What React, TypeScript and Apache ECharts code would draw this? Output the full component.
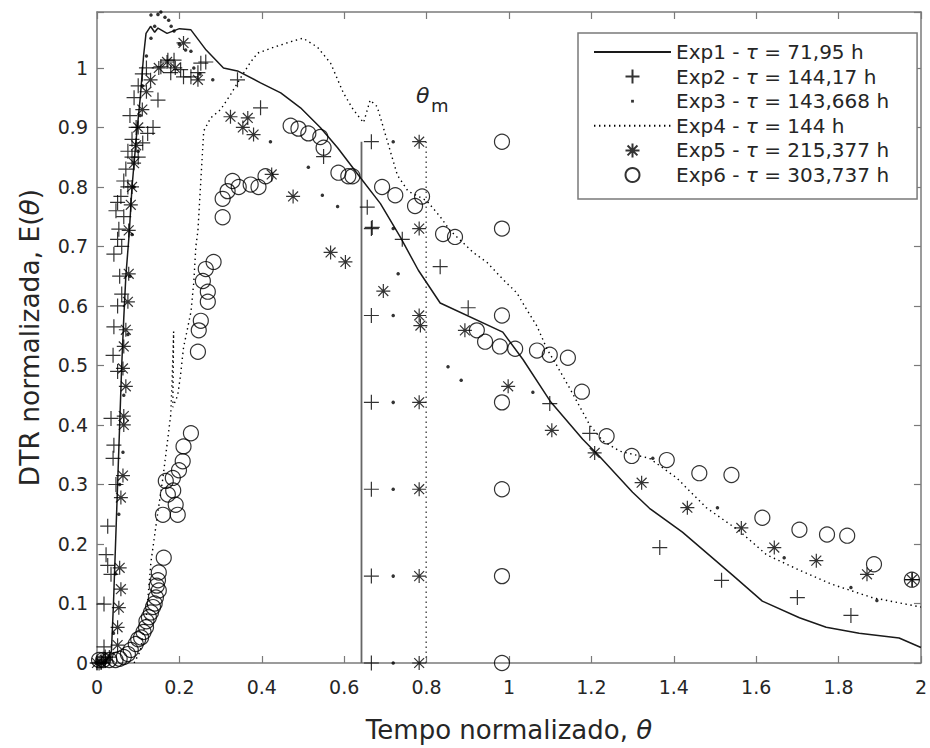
import React, { useEffect, useRef } from 'react';
import * as echarts from 'echarts';

// ---------- data ----------
const yMax = 1.094;

const legendNames = [
  'Exp1 - τ = 71,95 h',
  'Exp2 - τ = 144,17 h',
  'Exp3 - τ = 143,668 h',
  'Exp4 - τ = 144 h',
  'Exp5 - τ = 215,377 h',
  'Exp6 - τ = 303,737 h',
];

const exp1 = [
  [0, 0], [0.02, 0], [0.035, 0.02], [0.04, 0.1], [0.045, 0.2], [0.05, 0.3], [0.055, 0.4], [0.06, 0.5],
  [0.065, 0.58], [0.07, 0.65], [0.078, 0.72], [0.085, 0.8], [0.095, 0.88], [0.105, 0.95], [0.113, 1.02],
  [0.119, 1.058], [0.13, 1.07], [0.14, 1.06], [0.148, 1.067], [0.17, 1.058], [0.2, 1.066], [0.228, 1.064],
  [0.265, 1.03], [0.307, 1.0], [0.341, 0.995], [0.397, 0.975], [0.446, 0.958], [0.494, 0.933], [0.542, 0.9],
  [0.584, 0.866], [0.639, 0.816], [0.688, 0.772], [0.736, 0.716], [0.78, 0.66], [0.833, 0.605], [0.985, 0.556],
  [1.034, 0.51], [1.1, 0.44], [1.179, 0.376], [1.22, 0.347], [1.3, 0.287], [1.341, 0.26], [1.421, 0.22],
  [1.542, 0.148], [1.615, 0.104], [1.705, 0.076], [1.77, 0.06], [1.85, 0.05], [1.947, 0.042], [2.0, 0.026],
];

const exp2 = [
  [0, 0], [0.005, 0], [0.01, 0.002], [0.015, 0.005], [0.02, 0.01], [0.017, 0.027], [0.017, 0.099], [0.026, 0.164],
  [0.022, 0.182], [0.034, 0.149], [0.026, 0.23], [0.046, 0.3], [0.039, 0.344], [0.041, 0.366], [0.034, 0.411],
  [0.05, 0.49], [0.039, 0.517], [0.041, 0.565], [0.05, 0.6], [0.06, 0.62], [0.055, 0.65], [0.041, 0.687],
  [0.05, 0.712], [0.053, 0.729], [0.046, 0.76], [0.05, 0.774], [0.058, 0.784], [0.065, 0.81], [0.06, 0.7],
  [0.065, 0.75], [0.075, 0.8], [0.07, 0.83], [0.085, 0.85], [0.075, 0.86], [0.085, 0.88], [0.095, 0.9],
  [0.08, 0.92], [0.09, 0.95], [0.1, 0.97], [0.11, 0.99], [0.12, 1.0], [0.1, 0.85], [0.111, 0.874], [0.123, 0.89],
  [0.136, 0.9], [0.148, 0.946], [0.155, 1.002], [0.172, 1.013], [0.187, 1.013], [0.179, 0.992], [0.203, 0.997],
  [0.21, 0.985], [0.228, 0.985], [0.245, 0.992], [0.252, 1.008], [0.264, 1.01], [0.341, 0.98], [0.397, 0.933],
  [0.55, 0.851], [0.656, 0.766], [0.668, 0.732], [0.741, 0.712], [0.833, 0.666], [0.901, 0.597], [1.099, 0.436],
  [1.196, 0.386], [1.366, 0.194], [1.516, 0.139], [1.7, 0.11], [1.83, 0.08], [1.979, 0.14],
];

const exp3 = [
  [0, 0], [0.02, 0], [0.03, 0.01], [0.04, 0.05], [0.045, 0.15], [0.053, 0.25], [0.055, 0.3], [0.063, 0.354],
  [0.065, 0.45], [0.075, 0.552], [0.08, 0.65], [0.085, 0.72], [0.09, 0.8], [0.1, 0.86], [0.105, 0.92],
  [0.11, 0.97], [0.12, 1.02], [0.131, 1.05], [0.131, 1.089], [0.14, 1.07], [0.148, 1.09], [0.155, 1.094],
  [0.165, 1.085], [0.174, 1.08], [0.18, 1.07], [0.187, 1.062], [0.2, 1.04], [0.215, 1.03], [0.228, 1.028],
  [0.235, 1.0], [0.25, 0.99], [0.281, 0.98], [0.421, 0.876], [0.513, 0.833], [0.547, 0.786], [0.584, 0.767],
  [0.731, 0.654], [0.852, 0.498], [0.884, 0.475], [1.058, 0.455], [1.349, 0.344], [1.506, 0.261],
  [1.668, 0.177], [1.83, 0.127], [1.893, 0.105],
];

const exp4 = [
  [0.09, 0], [0.105, 0.02], [0.12, 0.08], [0.131, 0.17], [0.138, 0.205], [0.147, 0.25], [0.159, 0.306],
  [0.167, 0.35], [0.179, 0.417], [0.182, 0.47], [0.186, 0.557], [0.184, 0.43], [0.196, 0.45], [0.203, 0.485],
  [0.21, 0.53], [0.22, 0.563], [0.228, 0.59], [0.235, 0.64], [0.24, 0.7], [0.245, 0.727], [0.252, 0.81],
  [0.259, 0.894], [0.276, 0.916], [0.3, 0.93], [0.324, 0.955], [0.35, 0.985], [0.373, 1.01], [0.39, 1.025],
  [0.43, 1.035], [0.47, 1.044], [0.5, 1.05], [0.535, 1.035], [0.567, 1.008], [0.598, 0.958], [0.622, 0.93],
  [0.647, 0.908], [0.663, 0.946], [0.68, 0.935], [0.695, 0.9], [0.712, 0.86], [0.729, 0.82], [0.755, 0.793],
  [0.8, 0.777], [0.833, 0.75], [0.857, 0.727], [0.913, 0.69], [0.947, 0.673], [0.985, 0.645], [1.019, 0.622],
  [1.043, 0.594], [1.068, 0.566], [1.092, 0.528], [1.116, 0.5], [1.148, 0.461], [1.196, 0.4], [1.228, 0.373],
  [1.269, 0.356], [1.341, 0.344], [1.407, 0.311], [1.479, 0.261], [1.559, 0.222], [1.625, 0.182],
  [1.705, 0.156], [1.785, 0.132], [1.881, 0.11], [2.0, 0.094],
];

const exp5 = [
  [0, 0], [0.01, 0], [0.02, 0.005], [0.03, 0.01], [0.05, 0.03], [0.05, 0.06], [0.053, 0.093], [0.058, 0.124],
  [0.055, 0.16], [0.058, 0.278], [0.063, 0.315], [0.065, 0.4], [0.065, 0.415], [0.07, 0.465], [0.063, 0.495],
  [0.065, 0.532], [0.07, 0.56], [0.075, 0.607], [0.077, 0.654], [0.077, 0.727], [0.082, 0.77], [0.085, 0.8],
  [0.09, 0.84], [0.095, 0.87], [0.1, 0.9], [0.11, 0.93], [0.12, 0.96], [0.13, 0.98], [0.15, 1.0], [0.17, 1.01],
  [0.19, 1.0], [0.21, 1.042], [0.245, 0.98], [0.324, 0.918], [0.366, 0.916], [0.354, 0.9], [0.38, 0.888],
  [0.424, 0.821], [0.476, 0.784], [0.567, 0.69], [0.603, 0.674], [0.695, 0.625], [0.785, 0.567],
  [0.893, 0.559], [0.998, 0.465], [1.104, 0.391], [1.208, 0.353], [1.322, 0.303], [1.433, 0.261],
  [1.564, 0.227], [1.644, 0.194], [1.746, 0.172], [1.869, 0.149], [1.978, 0.14],
];

const exp6 = [
  [0.005, 0.005], [0.015, 0.005], [0.03, 0.005], [0.045, 0.005], [0.055, 0.007], [0.065, 0.01], [0.075, 0.015],
  [0.082, 0.022], [0.094, 0.032], [0.1, 0.04], [0.107, 0.043], [0.113, 0.052], [0.119, 0.06], [0.12, 0.07],
  [0.126, 0.077], [0.131, 0.085], [0.136, 0.094], [0.14, 0.1], [0.143, 0.11], [0.15, 0.122], [0.145, 0.13],
  [0.148, 0.139], [0.15, 0.152], [0.162, 0.177], [0.16, 0.249], [0.196, 0.249], [0.191, 0.266], [0.172, 0.283],
  [0.185, 0.29], [0.167, 0.306], [0.184, 0.311], [0.199, 0.324], [0.208, 0.339], [0.21, 0.364], [0.228, 0.386],
  [0.245, 0.523], [0.247, 0.559], [0.252, 0.575], [0.269, 0.607], [0.269, 0.624], [0.257, 0.642], [0.264, 0.662],
  [0.283, 0.674], [0.305, 0.749], [0.305, 0.78], [0.317, 0.793], [0.329, 0.81], [0.344, 0.8], [0.373, 0.804],
  [0.392, 0.8], [0.409, 0.818], [0.47, 0.903], [0.489, 0.898], [0.513, 0.89], [0.542, 0.884], [0.55, 0.866],
  [0.586, 0.824], [0.61, 0.818], [0.62, 0.818], [0.692, 0.8], [0.724, 0.786], [0.772, 0.768], [0.789, 0.784],
  [0.84, 0.721], [0.869, 0.716], [0.922, 0.559], [0.942, 0.54], [0.978, 0.532], [1.015, 0.528], [1.068, 0.525],
  [1.099, 0.518], [1.143, 0.513], [1.177, 0.456], [1.237, 0.381], [1.298, 0.348], [1.383, 0.341],
  [1.462, 0.319], [1.54, 0.316], [1.615, 0.244], [1.705, 0.224], [1.772, 0.216], [1.821, 0.214],
  [1.886, 0.166], [1.978, 0.14],
];

// mean residence times (θm) of the six experiments and the marker levels of the θm columns
const thetaM = [0.642, 0.666, 0.719, 0.799, 0.782, 0.983];
const thetaMTop = 0.876;
const thetaMLevels = [0, 0.146, 0.292, 0.438, 0.584, 0.73, 0.876];

// ---------- styling ----------
const FONT = '"DejaVu Sans", Verdana, sans-serif';
const TXT = '#262626';
const AXC = '#7a7a7a';
const PLUS = 'path://M0,7H14M7,0V14';
const STAR = 'path://M0,7H14M7,0V14M2.05,2.05L11.95,11.95M11.95,2.05L2.05,11.95';
const DOT_ICON = 'path://M0,0M14,14M5.6,5.6h2.8v2.8h-2.8z';

const hollow = { color: 'rgba(0,0,0,0)', borderColor: '#000', borderWidth: 1.2 };
const noSymbol = { color: 'rgba(0,0,0,0)', borderColor: 'rgba(0,0,0,0)', borderWidth: 0, opacity: 0 };

const fmt = (v: number) => {
  const r = Math.round(v * 10) / 10;
  if (Math.abs(v - r) > 1e-6) return '';
  return String(r);
};

function buildOption() {
  const col = (i: number) => thetaMLevels.map((y) => [thetaM[i], y]);
  const axisCommon = {
    axisLine: { show: true, onZero: false, lineStyle: { color: AXC, width: 1.5 } },
    axisTick: { show: true, inside: true, length: 7, lineStyle: { color: AXC, width: 1.2 } },
    splitLine: { show: false },
  };
  return {
    animation: false,
    backgroundColor: '#fff',
    grid: { left: 97, top: 12, width: 826, height: 652, containLabel: false },
    xAxis: [
      {
        type: 'value', min: 0, max: 2, interval: 0.2, position: 'bottom',
        ...axisCommon,
        axisLabel: { color: TXT, fontFamily: FONT, fontSize: 19, margin: 14, formatter: fmt },
        name: 'Tempo normalizado, {i|θ}', nameLocation: 'middle', nameGap: 54,
        nameTextStyle: {
          color: TXT, fontFamily: FONT, fontSize: 26,
          rich: { i: { fontStyle: 'italic', fontFamily: FONT, fontSize: 26, color: TXT } },
        },
      },
      {
        type: 'value', min: 0, max: 2, interval: 0.2, position: 'top',
        ...axisCommon, axisLabel: { show: false },
      },
    ],
    yAxis: [
      {
        type: 'value', min: 0, max: yMax, interval: 0.1, position: 'left',
        ...axisCommon,
        axisLabel: { color: TXT, fontFamily: FONT, fontSize: 19, margin: 9, formatter: fmt },
        name: 'DTR normalizada, E({i|θ})', nameLocation: 'middle', nameGap: 54,
        nameTextStyle: {
          color: TXT, fontFamily: FONT, fontSize: 26.5,
          rich: { i: { fontStyle: 'italic', fontFamily: FONT, fontSize: 26.5, color: TXT } },
        },
      },
      {
        type: 'value', min: 0, max: yMax, interval: 0.1, position: 'right',
        ...axisCommon, axisLabel: { show: false },
      },
    ],
    legend: {
      orient: 'vertical', left: 578, top: 33,
      itemWidth: 77, itemHeight: 14, itemGap: 4.6,
      padding: [9, 28, 14, 15],
      borderColor: AXC, borderWidth: 1.5, backgroundColor: '#fff',
      data: [
        { name: legendNames[0], itemStyle: noSymbol },
        { name: legendNames[1] },
        { name: legendNames[2], icon: DOT_ICON },
        { name: legendNames[3], itemStyle: noSymbol },
        { name: legendNames[4] },
        { name: legendNames[5] },
      ],
      formatter: (name: string) => {
        const parts = name.split('τ');
        return `{a|${parts[0]}}{t|τ}{a|${parts[1]}}`;
      },
      textStyle: {
        color: TXT, fontFamily: FONT, fontSize: 20, lineHeight: 20,
        rich: {
          a: { color: TXT, fontFamily: FONT, fontSize: 20, lineHeight: 20 },
          t: { color: TXT, fontFamily: FONT, fontSize: 20, lineHeight: 20, fontStyle: 'italic' },
        },
      },
    },
    graphic: [
      { type: 'text', left: 416, top: 84, style: { text: 'θ', font: `italic 22px ${FONT}`, fill: TXT } },
      { type: 'text', left: 431, top: 96, style: { text: 'm', font: `18px ${FONT}`, fill: TXT } },
    ],
    series: [
      {
        name: legendNames[0], type: 'line', data: exp1, symbol: 'none', showSymbol: false,
        lineStyle: { color: '#1a1a1a', width: 1.5 }, z: 3,
      },
      {
        name: legendNames[1], type: 'scatter', data: exp2, symbol: PLUS, symbolSize: 15, itemStyle: hollow, z: 4,
      },
      {
        name: legendNames[2], type: 'scatter', data: exp3, symbol: 'circle', symbolSize: 3.5,
        itemStyle: { color: '#000' }, z: 4,
      },
      {
        name: legendNames[3], type: 'line', data: exp4, symbol: 'none', showSymbol: false,
        lineStyle: { color: '#000', width: 1.4, type: [1.4, 3.6] }, z: 3,
      },
      {
        name: legendNames[4], type: 'scatter', data: exp5, symbol: STAR, symbolSize: 14, itemStyle: hollow, z: 4,
      },
      {
        name: legendNames[5], type: 'scatter', data: exp6, symbol: 'circle', symbolSize: 15, itemStyle: hollow, z: 4,
      },
      // θm markers
      {
        type: 'line', data: [[thetaM[0], 0], [thetaM[0], thetaMTop]], symbol: 'none', showSymbol: false,
        lineStyle: { color: '#666', width: 1.8 }, z: 2,
      },
      { type: 'scatter', data: col(1), symbol: PLUS, symbolSize: 15, itemStyle: hollow, z: 4 },
      { type: 'scatter', data: col(2), symbol: 'circle', symbolSize: 3.5, itemStyle: { color: '#000' }, z: 4 },
      {
        type: 'line', data: [[thetaM[3], 0], [thetaM[3], thetaMTop]], symbol: 'none', showSymbol: false,
        lineStyle: { color: '#444', width: 1.4, type: [1.4, 3.6] }, z: 2,
      },
      { type: 'scatter', data: col(4), symbol: STAR, symbolSize: 14, itemStyle: hollow, z: 4 },
      { type: 'scatter', data: col(5), symbol: 'circle', symbolSize: 15, itemStyle: hollow, z: 4 },
    ],
  };
}

export default function App() {
  const ref = useRef<HTMLDivElement>(null);
  useEffect(() => {
    document.body.style.margin = '0';
    const chart = echarts.init(ref.current as HTMLDivElement, null, { renderer: 'svg' });
    chart.setOption(buildOption() as any);
    return () => chart.dispose();
  }, []);
  return <div ref={ref} style={{ width: 930, height: 748 }} />;
}
